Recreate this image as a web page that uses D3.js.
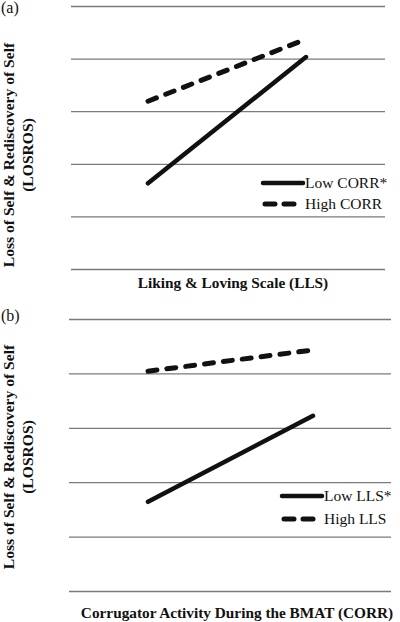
<!DOCTYPE html>
<html><head><meta charset="utf-8">
<script src="https://cdn.jsdelivr.net/npm/d3@7"></script>
<style>
html,body{margin:0;padding:0;background:#fff;}
svg{display:block;}
</style></head>
<body>
<svg id="chart" width="400" height="622"></svg>
<script>
// ---- data ----
const xLevels = ["Low", "High"];
const gridTicks = [0, 1, 2, 3, 4, 5];

const panelALabel = "(a)";
const panelAXTitle = "Liking & Loving Scale (LLS)";
const panelASeriesNames = ["Low CORR*", "High CORR"];
const panelALow = [1.63, 4.03];
const panelAHigh = [3.19, 4.37];

const panelBLabel = "(b)";
const panelBXTitle = "Corrugator Activity During the BMAT (CORR)";
const panelBSeriesNames = ["Low LLS*", "High LLS"];
const panelBLow = [1.64, 3.22];
const panelBHigh = [4.04, 4.43];

const yTitle1 = "Loss of Self & Rediscovery of Self";
const yTitle2 = "(LOSROS)";

// ---- layout ----
const svg = d3.select("#chart");
const serif = "'Liberation Serif', 'Times New Roman', serif";

const panels = [
  {label: panelALabel, labelY: 13, xTitle: panelAXTitle, names: panelASeriesNames,
   low: panelALow, high: panelAHigh,
   gx0: 71, gx1: 385, gy0: 269, gy1: 6, px0: 148, px1: 306,
   legX0: 263, legX1: 303, legY: 183, legGap: 21,
   xTitleX: 233, xTitleY: 288, yTitleC: 155},
  {label: panelBLabel, labelY: 321, xTitle: panelBXTitle, names: panelBSeriesNames,
   low: panelBLow, high: panelBHigh,
   gx0: 69, gx1: 391, gy0: 591, gy1: 319, px0: 148, px1: 313,
   legX0: 282, legX1: 322, legY: 496, legGap: 23,
   xTitleX: 237, xTitleY: 618, yTitleC: 457}
];

panels.forEach(p => {
  const g = svg.append("g");
  const y = d3.scaleLinear().domain([0, 5]).range([p.gy0, p.gy1]);
  const x = d3.scalePoint().domain(xLevels).range([p.px0, p.px1]);

  // gridlines via axis
  const axis = d3.axisLeft(y).tickValues(gridTicks).tickSize(-(p.gx1 - p.gx0)).tickFormat("");
  const ag = g.append("g").attr("transform", `translate(${p.gx0},0)`).call(axis);
  ag.select(".domain").remove();
  ag.selectAll(".tick line").attr("stroke", "#7a7a7a").attr("stroke-width", 1.3);

  const line = d3.line().x((d, i) => x(xLevels[i])).y(d => y(d));

  g.append("path").datum(p.low).attr("d", line)
    .attr("fill", "none").attr("stroke", "#111").attr("stroke-width", 4.5)
    .attr("stroke-linecap", "round");
  g.append("path").datum(p.high).attr("d", line)
    .attr("fill", "none").attr("stroke", "#111").attr("stroke-width", 5)
    .attr("stroke-linecap", "round").attr("stroke-dasharray", "9,10");

  // panel label
  g.append("text").attr("x", 1).attr("y", p.labelY).text(p.label)
    .attr("font-family", serif).attr("font-size", 16).attr("fill", "#111");

  // x title
  g.append("text").attr("x", p.xTitleX).attr("y", p.xTitleY).text(p.xTitle)
    .attr("text-anchor", "middle").attr("font-family", serif).attr("font-weight", "bold")
    .attr("font-size", 15.3).attr("fill", "#111");

  // y title
  const yt = g.append("text").attr("transform", `translate(14,${p.yTitleC}) rotate(-90)`)
    .attr("text-anchor", "middle").attr("font-family", serif).attr("font-weight", "bold")
    .attr("font-size", 15.6).attr("fill", "#111");
  yt.append("tspan").attr("x", 0).attr("y", 0).text(yTitle1);
  yt.append("tspan").attr("x", 0).attr("y", 19).text(yTitle2);

  // legend
  const leg = g.append("g");
  leg.append("line").attr("x1", p.legX0).attr("x2", p.legX1).attr("y1", p.legY).attr("y2", p.legY)
    .attr("stroke", "#111").attr("stroke-width", 4.5).attr("stroke-linecap", "round");
  leg.append("line").attr("x1", p.legX0 + 2).attr("x2", p.legX1).attr("y1", p.legY + p.legGap).attr("y2", p.legY + p.legGap)
    .attr("stroke", "#111").attr("stroke-width", 5).attr("stroke-linecap", "round").attr("stroke-dasharray", "10,9");
  p.names.forEach((n, i) => {
    leg.append("text").attr("x", p.legX1 + 2).attr("y", p.legY + 5 + i * p.legGap).text(n)
      .attr("font-family", serif).attr("font-size", 15.5).attr("fill", "#111");
  });
});
</script>
</body></html>
